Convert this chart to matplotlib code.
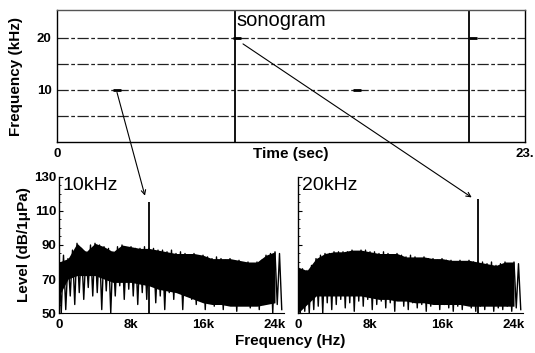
import numpy as np
import matplotlib
matplotlib.use("Agg")
import matplotlib.pyplot as plt
from matplotlib.patches import ConnectionPatch

plt.rcParams['font.family'] = ['Liberation Sans', 'DejaVu Sans']

# --- sonogram (top panel) ---
tone_khz = [5, 10, 15, 20]
transient_sec = [8.9, 20.6]
mark_sec = [3.0, 9.0, 15.0, 20.8]
mark_khz = [10, 20, 10, 20]
time_end = 23.4

# --- spectra (bottom panels), 0.5 kHz grid ---
freq_k = np.arange(0, 25, 0.5)
core_k = np.arange(0, 25, 1.0)

peaks_10 = [80, 84, 82, 87, 91, 88, 86, 90, 91, 90, 89, 88, 86, 89, 90, 88, 89, 88, 88, 89,
            88, 88, 87, 87, 86, 87, 85, 86, 85, 84, 85, 83, 84, 83, 82, 83, 82, 81, 82, 80,
            81, 79, 80, 79, 80, 81, 84, 85, 86, 85]
troughs_10 = [50, 52, 60, 55, 62, 58, 65, 60, 62, 52, 63, 50, 60, 66, 58, 64, 60, 55, 62, 58,
              68, 56, 60, 52, 62, 58, 64, 52, 60, 58, 55, 62, 52, 58, 54, 60, 52, 56, 58, 51,
              55, 60, 53, 57, 52, 55, 58, 50, 55, 52]
core_10 = [60, 70, 72, 72, 72, 70, 68, 68, 68, 67, 66, 64, 63, 62, 60, 58, 56, 55, 55, 54,
           54, 54, 54, 55, 56]
spike_10_hz = [0, 10000]
spike_10_db = [83, 115]

peaks_20 = [77, 76, 75, 78, 82, 84, 85, 85, 86, 86, 86, 86, 87, 86, 87, 87, 86, 86, 85, 86,
            85, 84, 85, 84, 83, 84, 83, 82, 83, 82, 82, 81, 82, 81, 81, 80, 81, 80, 81, 80,
            80, 80, 79, 80, 78, 79, 80, 79, 80, 79]
troughs_20 = [50, 51, 50, 52, 54, 50, 56, 52, 55, 58, 53, 56, 51, 57, 54, 58, 52, 55, 57, 53,
              56, 51, 58, 54, 52, 56, 53, 55, 51, 54, 56, 52, 55, 53, 51, 54, 52, 55, 53, 51,
              54, 52, 55, 51, 53, 52, 54, 51, 53, 52]
core_20 = [50, 55, 60, 60, 60, 60, 60, 60, 59, 58, 58, 57, 57, 56, 56, 55, 55, 55, 55, 54,
           54, 54, 54, 54, 54]
spike_20_hz = [0, 20000]
spike_20_db = [112, 117]

freq_ticks = [0, 8000, 16000, 24000]
freq_labels = ['0', '8k', '16k', '24k']
level_ticks = [50, 70, 90, 110, 130]

W, H = 535, 353
fig = plt.figure(figsize=(W / 100, H / 100), dpi=100)


def box(x0, y0, x1, y1):
    return [x0 / W, 1 - y1 / H, (x1 - x0) / W, (y1 - y0) / H]


bold = dict(fontweight='bold')

# top: sonogram
ax0 = fig.add_axes(box(57, 10, 525, 142))
for f in tone_khz:
    ax0.axhline(f, color='#222222', lw=0.9, ls=(0, (9, 2, 3, 2)))
for t in transient_sec:
    ax0.axvline(t, color='black', lw=1.3)
for t, f in zip(mark_sec, mark_khz):
    ax0.plot([t - 0.2, t + 0.2], [f, f], color='black', lw=2.0, solid_capstyle='butt')
ax0.set_xlim(0, time_end)
ax0.set_ylim(0, 25.3)
ax0.set_xticks([0, time_end])
ax0.set_xticklabels(['0', '23.'], fontsize=9.5, **bold)
ax0.set_yticks([10, 20])
ax0.set_yticklabels(['10', '20'], fontsize=9.5, **bold)
ax0.tick_params(length=0, pad=4)
ax0.set_xlabel('Time (sec)', fontsize=11, **bold)
ax0.xaxis.set_label_coords(0.5, -0.035)
ax0.set_ylabel('Frequency (kHz)', fontsize=11, labelpad=10, **bold)
ax0.text(8.95, 23.3, 'sonogram', fontsize=14.5, va='center', ha='left')
for s in ax0.spines.values():
    s.set_linewidth(1.0)
ax0.spines['top'].set_color('#555555')


def spectrum(ax, peaks, troughs, core, sp_hz, sp_db, label):
    fk = freq_k * 1000
    ax.fill_between(core_k * 1000, core, np.array(peaks)[::2], color='black', lw=0)
    zig_x = np.ravel(np.column_stack([fk, fk + 250]))
    zig_y = np.ravel(np.column_stack([peaks, troughs]))
    ax.plot(zig_x, zig_y, color='black', lw=1.0)
    ax.vlines(sp_hz, 50, sp_db, color='black', lw=1.3)
    ax.set_xlim(0, 25000)
    ax.set_ylim(50, 130)
    ax.set_xticks(freq_ticks)
    ax.set_xticklabels(freq_labels, fontsize=9.5, **bold)
    ax.set_yticks(level_ticks)
    ax.set_yticks(np.arange(50, 131, 5), minor=True)
    ax.tick_params(axis='x', length=0, pad=4)
    ax.tick_params(axis='y', which='major', length=3, direction='in', pad=2)
    ax.tick_params(axis='y', which='minor', length=1.5, direction='in')
    ax.spines['top'].set_visible(False)
    ax.spines['right'].set_visible(False)
    ax.spines['left'].set_linewidth(1.0)
    ax.spines['bottom'].set_linewidth(0.8)
    ax.text(400, 125, label, fontsize=14, va='center', ha='left')


ax1 = fig.add_axes(box(59, 177, 284, 313))
spectrum(ax1, peaks_10, troughs_10, core_10, spike_10_hz, spike_10_db, '10kHz')
ax1.set_yticklabels([str(v) for v in level_ticks], fontsize=9.5, **bold)
ax1.set_ylabel('Level (dB/1\u03bcPa)', fontsize=11, labelpad=2, **bold)

ax2 = fig.add_axes(box(298, 177, 523, 313))
spectrum(ax2, peaks_20, troughs_20, core_20, spike_20_hz, spike_20_db, '20kHz')
ax2.set_yticklabels([])

fig.text(290 / W, 1 - 341 / H, 'Frequency (Hz)', fontsize=11, ha='center', va='center', **bold)

# arrows from sonogram tones to spectral peaks
for (xa, ya), (xb, yb), axb in [((3.0, 9.5), (9550, 119), ax1),
                                 ((9.3, 18.8), (19300, 118), ax2)]:
    con = ConnectionPatch(xyA=(xa, ya), coordsA=ax0.transData,
                          xyB=(xb, yb), coordsB=axb.transData,
                          arrowstyle='->', color='black', lw=0.8, mutation_scale=8)
    fig.add_artist(con)

fig.savefig('out.png', dpi=100)
